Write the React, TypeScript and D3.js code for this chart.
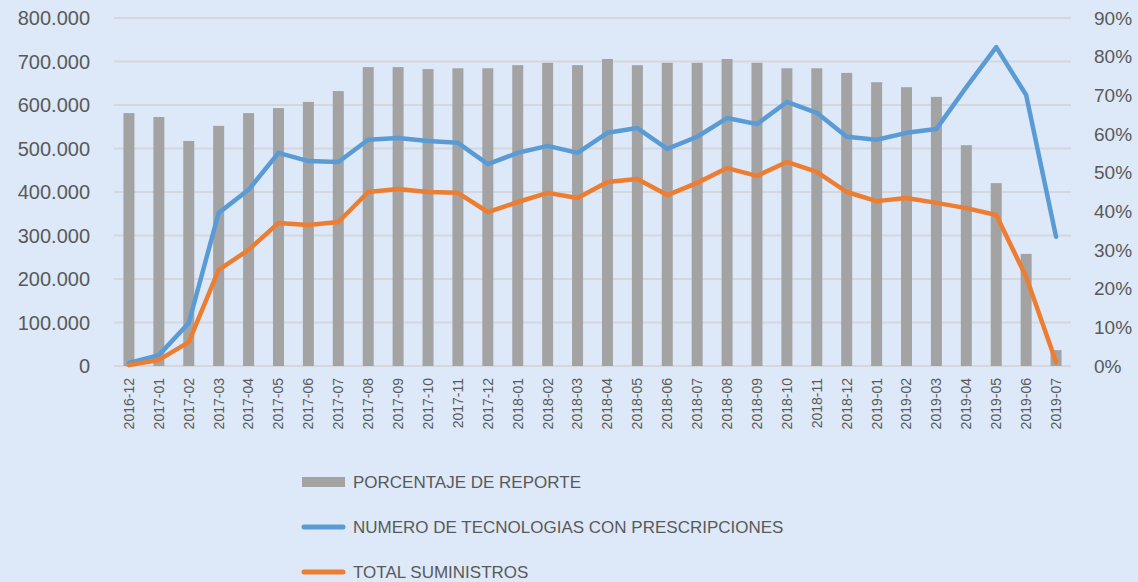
import React, { useEffect } from 'react';
import * as d3 from 'd3';

const months = [
  '2016-12', '2017-01', '2017-02', '2017-03', '2017-04', '2017-05', '2017-06', '2017-07',
  '2017-08', '2017-09', '2017-10', '2017-11', '2017-12', '2018-01', '2018-02', '2018-03',
  '2018-04', '2018-05', '2018-06', '2018-07', '2018-08', '2018-09', '2018-10', '2018-11',
  '2018-12', '2019-01', '2019-02', '2019-03', '2019-04', '2019-05', '2019-06', '2019-07',
];

// PORCENTAJE DE REPORTE (right axis)
const reportPct = [
  0.654, 0.644, 0.582, 0.621, 0.654, 0.667, 0.683, 0.711,
  0.773, 0.773, 0.768, 0.770, 0.770, 0.778, 0.784, 0.778,
  0.794, 0.778, 0.784, 0.784, 0.794, 0.784, 0.770, 0.770,
  0.758, 0.734, 0.721, 0.696, 0.571, 0.473, 0.290, 0.041,
];

// NUMERO DE TECNOLOGIAS CON PRESCRIPCIONES (left axis)
const tecnologias = [
  7000, 25000, 99000, 352000, 405000, 490000, 471000, 469000,
  520000, 524000, 517000, 513000, 464000, 490000, 506000, 490000,
  536000, 547000, 499000, 527000, 570000, 556000, 607000, 582000,
  527000, 520000, 536000, 545000, 641000, 733000, 623000, 297000,
];

// TOTAL SUMINISTROS (left axis)
const suministros = [
  2000, 14000, 55000, 221000, 267000, 329000, 324000, 331000,
  400000, 407000, 400000, 398000, 354000, 377000, 398000, 386000,
  423000, 430000, 393000, 421000, 455000, 437000, 469000, 446000,
  400000, 379000, 386000, 375000, 363000, 347000, 205000, 9000,
];

const leftTicks = [0, 100000, 200000, 300000, 400000, 500000, 600000, 700000, 800000];
const rightTicks = [0, 0.1, 0.2, 0.3, 0.4, 0.5, 0.6, 0.7, 0.8, 0.9];

const legendItems = [
  { label: 'PORCENTAJE DE REPORTE', type: 'bar', color: '#a3a3a3' },
  { label: 'NUMERO DE TECNOLOGIAS CON PRESCRIPCIONES', type: 'line', color: '#5b9bd5' },
  { label: 'TOTAL SUMINISTROS', type: 'line', color: '#ed7d31' },
];

const W = 1138;
const H = 582;
const plot = { left: 114, right: 1071, top: 18, bottom: 366 };
const font = "'Liberation Sans', Arial, sans-serif";
const textColor = '#595959';

const esLocale = d3.formatLocale({ decimal: ',', thousands: '.', grouping: [3], currency: ['', ''] });
const fmtLeft = esLocale.format(',');

const App: React.FC = () => {
  useEffect(() => {
    document.body.style.margin = '0';
  }, []);

  const x = d3.scaleBand<string>().domain(months).range([plot.left, plot.right]);
  const yLeft = d3.scaleLinear().domain([0, 800000]).range([plot.bottom, plot.top]);
  const yRight = d3.scaleLinear().domain([0, 0.9]).range([plot.bottom, plot.top]);
  const barW = 11;
  const cx = (m: string) => (x(m) ?? 0) + x.bandwidth() / 2;

  const line = d3.line<number>()
    .x((_, i) => cx(months[i]))
    .y(d => yLeft(d));

  return (
    <svg width={W} height={H} style={{ display: 'block' }} fontFamily={font}>
      <rect width={W} height={H} fill="#dde9f8" />

      {/* grid */}
      {leftTicks.map(t => (
        <line key={t} x1={plot.left} x2={plot.right} y1={yLeft(t)} y2={yLeft(t)}
          stroke="#d4d8dd" strokeWidth={2} />
      ))}

      {/* left axis */}
      {leftTicks.map(t => (
        <text key={t} x={90} y={yLeft(t)} dy="0.35em" textAnchor="end"
          fontSize={20} fill={textColor}>{fmtLeft(t)}</text>
      ))}

      {/* right axis */}
      {rightTicks.map(t => (
        <text key={t} x={1094} y={yRight(t)} dy="0.35em" textAnchor="start"
          fontSize={19} fill={textColor}>{d3.format('.0%')(t)}</text>
      ))}

      {/* bars */}
      {reportPct.map((v, i) => (
        <rect key={months[i]} x={cx(months[i]) - barW / 2} y={yRight(v)}
          width={barW} height={plot.bottom - yRight(v)} fill="#a3a3a3" />
      ))}

      {/* lines */}
      <path d={line(tecnologias) ?? ''} fill="none" stroke="#5b9bd5" strokeWidth={4.5}
        strokeLinejoin="round" strokeLinecap="round" />
      <path d={line(suministros) ?? ''} fill="none" stroke="#ed7d31" strokeWidth={4.5}
        strokeLinejoin="round" strokeLinecap="round" />

      {/* x labels */}
      {months.map(m => (
        <text key={m} transform={`translate(${cx(m)},378) rotate(-90)`} dy="0.35em"
          textAnchor="end" fontSize={14} fill={textColor}>{m}</text>
      ))}

      {/* legend */}
      {legendItems.map((item, i) => {
        const y = 482 + i * 45;
        return (
          <g key={item.label}>
            {item.type === 'bar'
              ? <rect x={302} y={y - 5} width={43} height={10} fill={item.color} />
              : <line x1={304} x2={343} y1={y} y2={y} stroke={item.color} strokeWidth={5} strokeLinecap="round" />}
            <text x={353} y={y} dy="0.35em" fontSize={17} fill={textColor}>{item.label}</text>
          </g>
        );
      })}
    </svg>
  );
};

export default App;
